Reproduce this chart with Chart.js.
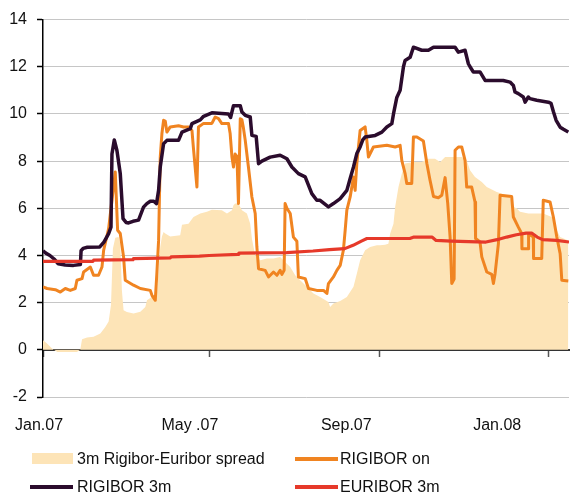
<!DOCTYPE html>
<html>
<head>
<meta charset="utf-8">
<script src="https://cdn.jsdelivr.net/npm/chart.js@4/dist/chart.umd.min.js"></script>
<style>
  html, body { margin: 0; padding: 0; background: #fff; }
  #wrap { position: relative; width: 576px; height: 494px; }
  canvas { position: absolute; left: 0; top: 0; }
  .lg { position: absolute; font-family: 'Liberation Sans', Arial, sans-serif; font-size: 16px; color: #111; line-height: 18px; white-space: nowrap; }
  .sw { position: absolute; }
</style>
</head>
<body>
<div id="wrap">
  <canvas id="c" width="576" height="494"></canvas>
  <div id="legend"></div>
</div>
<script>
// ---- Data (x = days since 1 Jan 2007) ----
const seriesNames = ['3m Rigibor-Euribor spread', 'RIGIBOR on', 'RIGIBOR 3m', 'EURIBOR 3m'];
const xTickLabels = ['Jan.07', 'May .07', 'Sep.07', 'Jan.08'];
const yTickMin = -2, yTickMax = 14, yTickStep = 2;

const spreadDays = [0,2.9,6.5,10.3,24.5,26.9,28.2,31.8,36.5,41.4,45,47.4,49.1,50.5,52.2,54.6,55.8,57,58.2,60.6,65.4,70.3,73.9,75.1,77.5,79.9,82.3,84.7,85.9,87.1,88.3,91.9,99.1,100.4,105.1,108.7,113.6,118.4,122,129.2,132.9,136.5,137.6,138.8,141.2,143.7,147.3,149.7,150.9,153.3,156.9,161.7,166.5,171.3,174.9,178.6,182.2,185.8,190.6,195.4,200.2,206.2,207.4,209.8,214.7,219.5,224.3,226.7,229.1,232.7,236.3,241.2,243.5,247.1,249.5,250.8,253.2,254.4,256.8,259.2,261.6,267.6,273.6,278.4,283.2,286.9,290.5,302.5,306.1,308.5,312.1,317,320.6,327.8,335,337.4,339.8,342.2,344.6,350.6,361.4,367.5,371.2,373.6,379.5];
const spreadValues = [0.41,0.27,0.06,-0.09,-0.09,0,0.45,0.52,0.55,0.69,0.97,1.2,1.9,4.3,4.75,4.78,4.5,2.5,1.68,1.6,1.54,1.61,1.82,2.1,2.2,2.3,2.39,4.36,4.8,5.0,4.93,4.8,4.86,5.3,5.35,5.63,5.78,5.85,5.94,5.92,5.78,5.92,6.13,6.2,6.2,5.92,5.78,5.35,4.72,4.0,3.8,3.87,3.87,3.94,3.72,3.51,3.16,2.95,2.67,2.39,2.24,2.03,1.82,1.96,2.07,2.24,2.67,3.23,3.8,4.22,4.36,4.43,4.43,4.45,4.5,4.93,5.35,6.06,6.9,7.47,7.9,7.96,7.96,8.1,8.1,7.96,8.17,8.17,8.03,7.61,7.33,7.11,6.9,6.69,6.55,6.48,6.06,6.0,5.85,5.78,5.78,5.63,5.07,4.78,4.64];

const rigOnDays = [0,2.9,8.9,12.5,16.1,19.7,23.3,24.5,28.2,29.3,34.2,36.5,40.1,42.6,43.8,47.4,49.8,52.2,53.9,55.8,58.2,59.4,65.4,70.3,77.5,78.7,81.1,82.3,83.5,84.7,85.9,87.1,88.3,89.5,91.9,97.9,101.5,105.1,107.6,108.7,111.2,112.3,116,122,124.4,126.8,129.2,134,135.2,136.5,137.6,138.8,140.1,141.2,142.5,143.7,144.8,146.1,148.4,150.9,153.3,154.5,155.7,160.5,162.9,166.5,169,171.3,172.6,174.2,174.9,176.2,178.6,180.9,183.4,184.5,189.4,191.8,197.8,202.6,205.1,206.2,209.8,212.3,214.7,217,218.3,219.5,221.9,224.3,225.5,226.7,229.1,232.7,233.9,235.1,238.7,248.4,254.4,258,259.2,261.6,262.8,266.4,267.6,270.1,274.8,277.3,279.6,282.1,285.6,288.1,290.5,292.4,294.1,295.3,297,297.7,300.1,302.5,304.9,306.1,309.7,312.1,312.5,315.7,317,320.6,324.2,325.4,326.6,329,330.2,338.6,339.8,343.4,345.8,346,350.6,350.8,354.2,354.4,360.3,361.4,366.3,368.7,371.2,373.6,374.8,379.5];
const rigOnValues = [2.67,2.6,2.55,2.45,2.6,2.52,2.6,2.95,3.02,3.3,3.51,3.16,3.16,3.51,4.22,5.14,6.34,7.54,5.07,4.93,3.94,2.95,2.74,2.6,2.52,2.31,2.1,3.3,4.64,8.17,9.17,9.73,9.7,9.23,9.45,9.5,9.45,9.45,9.3,8.53,6.9,9.45,9.6,9.6,9.87,9.8,9.59,9.59,9.17,8.17,7.75,8.3,8.2,6.2,9.8,9.75,9.4,8.88,7.75,6.48,5.78,4.36,3.44,3.37,3.09,3.3,3.16,3.37,3.2,3.37,6.2,6.0,5.78,4.78,4.6,3.09,3.02,2.6,2.52,2.52,2.39,2.81,3.09,3.37,3.58,4.22,5.07,5.92,6.48,7.33,6.76,7.9,9.3,9.45,8.9,8.17,8.6,8.67,8.6,8.67,8.03,7.47,7.05,7.05,9.02,9.02,8.85,7.9,7.19,6.5,6.45,6.55,7.3,6.2,4.78,2.81,3.0,8.46,8.6,8.6,8.03,6.9,6.9,6.27,4.72,4.57,3.94,3.3,3.2,2.81,3.23,4.5,6.55,6.5,5.63,5.2,4.93,4.29,4.29,4.93,4.78,3.87,3.87,6.34,6.27,5.63,4.78,4.08,2.95,2.92];

const rig3mDays = [0,2,5,8,11,16,22,27,27.5,29,32,41,44,47.4,49.1,49.8,51.5,53.4,55.8,57.8,60,61.8,65,69,72.6,75,77.5,80,82,83.5,84.7,87.1,89.5,97.9,100.4,106.4,107.6,113.6,116,122,134,135.5,137.6,142.5,143.7,146.1,149.7,150.9,154,155.7,158.1,164.1,171.3,176.2,179.8,184.5,189.4,194.2,197.8,200.2,206.2,209.8,214.7,219.5,221.9,224.3,226.7,229.1,231,232.7,240,244.8,248.4,252,253.2,255.6,258,260.4,261.6,265.2,267.6,273.6,278.4,282.1,297.7,300.1,304.9,307.3,308.5,310.9,315.7,319.4,332.5,337.4,339.8,341,343.4,347,348.3,350.6,351.8,356.7,365.1,367,368.7,370.7,373.6,376,379.5];
const rig3mValues = [4.2,4.1,4.0,3.85,3.65,3.6,3.58,3.62,4.2,4.3,4.35,4.36,4.57,4.93,5.2,8.3,8.9,8.45,7.48,5.56,5.4,5.38,5.45,5.5,6.05,6.2,6.3,6.3,6.2,6.76,7.75,8.74,8.88,8.88,9.23,9.38,9.59,9.75,9.9,10.05,10.0,9.85,10.35,10.35,10.08,9.94,9.87,9.09,9.05,7.89,8.0,8.17,8.25,8.1,7.75,7.47,7.33,6.62,6.34,6.34,6.06,6.2,6.41,6.76,7.26,7.75,8.32,8.6,8.9,9.02,9.09,9.23,9.45,9.59,10.0,10.7,11.0,12.0,12.27,12.4,12.83,12.7,12.7,12.83,12.83,12.62,12.7,12.13,12.0,11.78,11.78,11.42,11.42,11.35,11.21,10.93,10.86,10.72,10.5,10.72,10.65,10.58,10.5,10.45,10.1,9.73,9.44,9.35,9.23];

const eurDays = [0,36,36.5,65,65.4,92,92.5,113,120,141,141.5,176,195,207,218,224,230,234,265,268,281,284,295,320,328,335,342,349,353,357,361,371,380];
const eurValues = [3.75,3.75,3.8,3.82,3.87,3.9,3.94,3.97,4.0,4.05,4.1,4.12,4.19,4.25,4.29,4.43,4.61,4.72,4.72,4.78,4.78,4.64,4.61,4.57,4.67,4.78,4.88,4.95,4.95,4.78,4.67,4.64,4.57];

// ---- Styling ----
const FONT = "'Liberation Sans', Arial, sans-serif";
const colors = ['#fde4b7', '#f08421', '#2b0c2d', '#e6392a'];
const monthTickDays = [0, 120, 243, 365];
const labelDays = [0, 109, 222, 331];

const toXY = (xs, ys) => xs.map((x, i) => ({ x: x, y: ys[i] }));

const datasets = [
  { label: seriesNames[0], data: toXY(spreadDays, spreadValues), fill: 'origin', backgroundColor: colors[0], borderColor: 'rgba(0,0,0,0)', borderWidth: 0, order: 4 },
  { label: seriesNames[1], data: toXY(rigOnDays, rigOnValues), fill: false, borderColor: colors[1], borderWidth: 3, order: 3 },
  { label: seriesNames[2], data: toXY(rig3mDays, rig3mValues), fill: false, borderColor: colors[2], borderWidth: 3.5, order: 2 },
  { label: seriesNames[3], data: toXY(eurDays, eurValues), fill: false, borderColor: colors[3], borderWidth: 3.2, order: 1 }
];

Chart.defaults.font.family = FONT;
Chart.defaults.font.size = 16;
Chart.defaults.color = '#111';

new Chart(document.getElementById('c'), {
  type: 'line',
  data: { datasets: datasets },
  options: {
    responsive: false,
    animation: false,
    devicePixelRatio: 1,
    layout: { padding: { left: 0, right: 7, top: 19, bottom: 52 } },
    elements: { point: { radius: 0 }, line: { tension: 0, borderJoinStyle: 'round', borderCapStyle: 'butt' } },
    plugins: { legend: { display: false }, tooltip: { enabled: false } },
    scales: {
      x: {
        type: 'linear', axis: 'x', min: 0, max: 380,
        position: { y: 0 },
        grid: { drawOnChartArea: false, drawTicks: true, tickLength: 6, color: '#555', tickWidth: 1.5 },
        border: { display: true, color: '#333', width: 2 },
        ticks: { display: false },
        afterBuildTicks: s => { s.ticks = monthTickDays.map(v => ({ value: v })); }
      },
      x2: {
        type: 'linear', axis: 'x', position: 'bottom', min: 0, max: 380,
        grid: { display: false, drawTicks: false },
        border: { display: false },
        ticks: { autoSkip: false, maxRotation: 0, padding: 19, labelOffset: -4, color: '#111',
                 callback: (v, i) => xTickLabels[i] },
        afterBuildTicks: s => { s.ticks = labelDays.map(v => ({ value: v })); },
        afterFit: s => { s.height = 45; }
      },
      y: {
        type: 'linear', position: 'left', min: yTickMin, max: yTickMax,
        ticks: { stepSize: yTickStep, padding: 10, color: '#111' },
        grid: { color: ctx => (ctx.tick && ctx.tick.value === 0) ? 'rgba(0,0,0,0)' : '#c6c6c6', lineWidth: 1, tickColor: '#000', tickLength: 6, tickWidth: 1.5 },
        border: { color: '#000', width: 1.5 },
        afterFit: s => { s.width = 43; }
      }
    }
  }
});

// ---- HTML legend (2 columns) ----
const legend = document.getElementById('legend');
const legendPos = [
  { sx: 32, tx: 77, cy: 459 },
  { sx: 295, tx: 340, cy: 459 },
  { sx: 30, tx: 77, cy: 487 },
  { sx: 295, tx: 340, cy: 487 }
];
seriesNames.forEach((name, i) => {
  const p = legendPos[i];
  const sw = document.createElement('div');
  sw.className = 'sw';
  if (i === 0) {
    sw.style.left = p.sx + 'px'; sw.style.top = (p.cy - 6) + 'px';
    sw.style.width = '41px'; sw.style.height = '11px';
  } else {
    sw.style.left = p.sx + 'px'; sw.style.top = (p.cy - 2) + 'px';
    sw.style.width = '43px'; sw.style.height = '3.5px';
  }
  sw.style.background = colors[i];
  legend.appendChild(sw);
  const t = document.createElement('div');
  t.className = 'lg';
  t.textContent = name;
  t.style.left = p.tx + 'px';
  t.style.top = (p.cy - 9) + 'px';
  legend.appendChild(t);
});
</script>
</body>
</html>
